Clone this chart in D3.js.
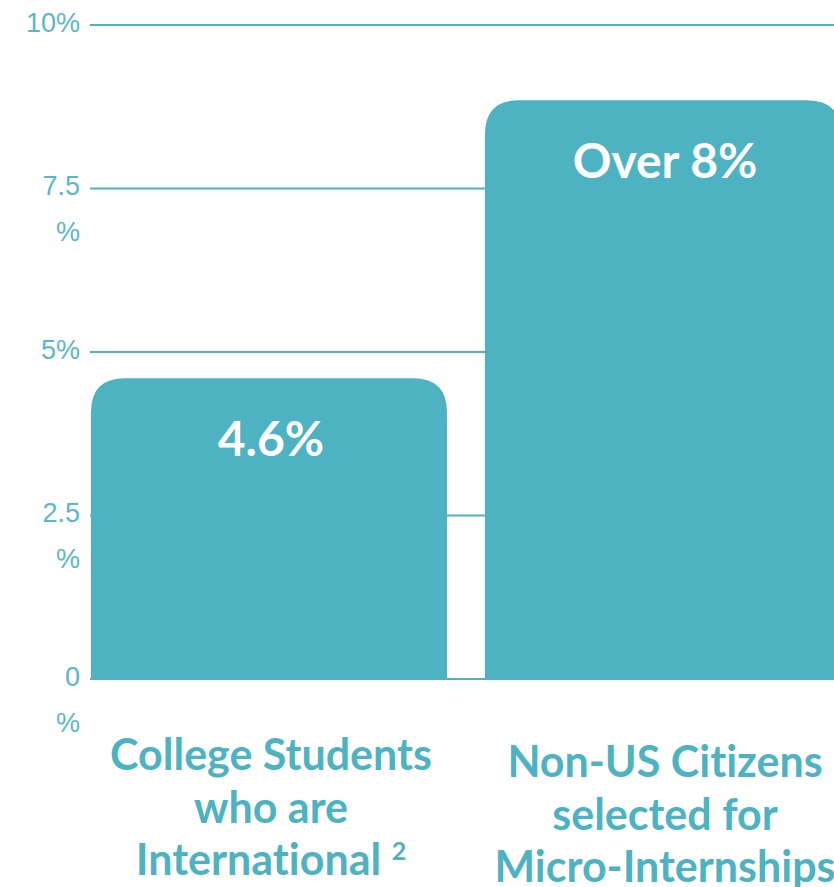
<!DOCTYPE html>
<html>
<head>
<meta charset="utf-8">
<script src="https://cdn.jsdelivr.net/npm/d3@7"></script>
<style>
  html, body { margin: 0; padding: 0; background: #ffffff; overflow: hidden; }
  svg { display: block; }
  text { font-variant-ligatures: none; font-feature-settings: "liga" 0, "clig" 0; }
</style>
</head>
<body>
<svg id="chart" width="834" height="887"></svg>
<script>
// Share of international students vs. non-US citizens selected
const categories = [
  ["College Students", "who are", "International"],
  ["Non-US Citizens", "selected for", "Micro-Internships"]
];
const footnotes = ["2", ""];
const values = [4.6, 8.85];
const valueLabels = ["4.6%", "Over 8%"];
const tickValues = [0, 2.5, 5, 7.5, 10];
const tickLabels = [["0", "%"], ["2.5", "%"], ["5%"], ["7.5", "%"], ["10%"]];

const teal = "#4db3c3";
const tickColor = "#58b8c7";

const svg = d3.select("#chart");

const y = d3.scaleLinear().domain([0, 10]).range([679, 25]);
const x = d3.scaleBand()
  .domain(d3.range(categories.length))
  .range([91, 841])
  .paddingInner(0.0964)
  .paddingOuter(0);

// Gridlines sit behind the bars
svg.append("g").selectAll("line")
  .data(tickValues)
  .join("line")
  .attr("x1", 90)
  .attr("x2", 900)
  .attr("y1", d => y(d))
  .attr("y2", d => y(d))
  .attr("stroke", teal)
  .attr("stroke-width", 2);

// Y tick labels, some broken over two lines
const yAxis = svg.append("g").attr("transform", "translate(80,0)")
  .call(d3.axisLeft(y).tickValues(tickValues).tickSize(0).tickPadding(0)
    .tickFormat((d, i) => tickLabels[i].join("")));
yAxis.select(".domain").remove();
yAxis.selectAll("text")
  .attr("fill", tickColor)
  .attr("font-family", "'Liberation Sans', Arial, sans-serif")
  .attr("font-size", 27)
  .attr("text-anchor", "end")
  .attr("dy", null)
  .attr("x", 0)
  .each(function (d, i) {
    const t = d3.select(this);
    t.text(null);
    tickLabels[i].forEach((line, j) => {
      t.append("tspan").attr("x", 0).attr("y", 6 + j * 46).text(line);
    });
  });

// Bars with rounded top corners
function topRounded(x0, y0, w, h, r) {
  r = Math.min(r, h, w / 2);
  return `M${x0},${y0 + h}` +
    `V${y0 + r}` +
    `Q${x0},${y0} ${x0 + r},${y0}` +
    `H${x0 + w - r}` +
    `Q${x0 + w},${y0} ${x0 + w},${y0 + r}` +
    `V${y0 + h}Z`;
}

svg.append("g").selectAll("path")
  .data(values)
  .join("path")
  .attr("d", (d, i) => topRounded(x(i), y(d), x.bandwidth(), y(0) - y(d), 34))
  .attr("fill", teal);

// Value labels inside the bars
svg.append("g").selectAll("text")
  .data(values)
  .join("text")
  .attr("x", (d, i) => x(i) + x.bandwidth() / 2 + 2)
  .attr("y", d => y(d) + 78)
  .attr("text-anchor", "middle")
  .attr("fill", "#ffffff")
  .attr("font-family", "Lato, sans-serif")
  .attr("font-weight", 700)
  .attr("font-size", 48)
  .text((d, i) => valueLabels[i]);

// Category labels under the bars
const catOffsets = [770, 777];
const cat = svg.append("g").selectAll("text")
  .data(categories)
  .join("text")
  .attr("text-anchor", "middle")
  .attr("fill", teal)
  .attr("font-family", "Lato, sans-serif")
  .attr("font-weight", 700)
  .attr("font-size", 43);

cat.each(function (lines, i) {
  const t = d3.select(this);
  const cx = x(i) + x.bandwidth() / 2 + 2;
  lines.forEach((line, j) => {
    const ts = t.append("tspan")
      .attr("x", cx)
      .attr("y", catOffsets[i] + j * 52.5)
      .text(line);
    if (j === lines.length - 1 && footnotes[i]) {
      ts.append("tspan").text("\u00a0");
      ts.append("tspan")
        .attr("font-size", 25)
        .attr("dy", -15)
        .text(footnotes[i]);
    }
  });
});
</script>
</body>
</html>
